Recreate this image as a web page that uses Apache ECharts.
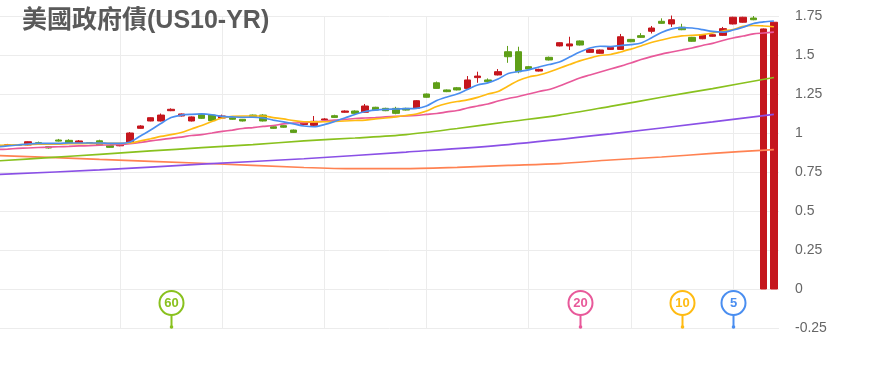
<!DOCTYPE html>
<html><head><meta charset="utf-8">
<script src="https://cdn.jsdelivr.net/npm/echarts@6/dist/echarts.min.js"></script>
<style>html,body{margin:0;padding:0;background:#fff}#c{width:879px;height:375px}</style>
</head><body><div id="c"></div>
<script>
const titleText = '美國政府債(US10-YR)';
// [open, close, low, high] per trading day (index = position on x axis)
const candles = [
[0.921,0.918,0.915,0.924],[0.92,0.925,0.918,0.93],[0.925,0.921,0.919,0.927],[0.923,0.944,0.921,0.946],
[0.938,0.933,0.93,0.945],[0.912,0.904,0.9,0.914],[0.955,0.948,0.945,0.962],[0.953,0.934,0.93,0.96],
[0.938,0.949,0.935,0.955],[0.937,0.934,0.932,0.94],[0.95,0.923,0.92,0.957],[0.919,0.908,0.905,0.922],
[0.918,0.923,0.915,0.926],[0.938,1.0,0.935,1.006],[1.03,1.045,1.028,1.05],[1.077,1.098,1.075,1.1],
[1.077,1.115,1.074,1.125],[1.143,1.152,1.14,1.158],[1.109,1.122,1.106,1.125],[1.077,1.103,1.074,1.106],
[1.12,1.094,1.09,1.125],[1.115,1.079,1.076,1.118],[1.096,1.109,1.093,1.118],[1.098,1.088,1.085,1.101],
[1.088,1.077,1.074,1.09],[1.115,1.105,1.102,1.118],[1.115,1.077,1.074,1.12],[1.04,1.03,1.027,1.043],
[1.047,1.037,1.034,1.05],[1.019,1.004,1.0,1.022],[1.054,1.064,1.05,1.068],[1.049,1.075,1.045,1.109],
[1.083,1.09,1.08,1.095],[1.111,1.1,1.097,1.117],[1.133,1.141,1.13,1.145],[1.141,1.126,1.123,1.145],
[1.133,1.173,1.13,1.186],[1.165,1.147,1.144,1.168],[1.158,1.143,1.14,1.162],[1.158,1.126,1.12,1.168],
[1.158,1.147,1.144,1.162],[1.158,1.207,1.155,1.21],[1.25,1.229,1.226,1.253],[1.322,1.286,1.283,1.33],
[1.276,1.265,1.262,1.279],[1.29,1.276,1.273,1.295],[1.286,1.34,1.283,1.365],[1.355,1.365,1.322,1.393],
[1.34,1.329,1.326,1.35],[1.372,1.393,1.369,1.41],[1.521,1.489,1.45,1.558],[1.521,1.393,1.383,1.553],
[1.425,1.41,1.407,1.43],[1.397,1.408,1.394,1.412],[1.485,1.468,1.465,1.49],[1.558,1.579,1.555,1.582],
[1.558,1.571,1.532,1.617],[1.59,1.564,1.561,1.593],[1.517,1.536,1.514,1.54],[1.511,1.532,1.508,1.535],
[1.536,1.549,1.533,1.552],[1.536,1.617,1.533,1.635],[1.6,1.585,1.582,1.603],[1.624,1.613,1.61,1.64],
[1.652,1.673,1.638,1.686],[1.716,1.703,1.7,1.735],[1.699,1.726,1.68,1.753],[1.678,1.662,1.659,1.7],
[1.613,1.588,1.585,1.616],[1.604,1.63,1.601,1.633],[1.62,1.63,1.617,1.633],[1.626,1.669,1.623,1.68],
[1.699,1.742,1.696,1.745],[1.71,1.742,1.707,1.745],[1.737,1.726,1.723,1.75],[0,1.667,0,1.67],
[0,1.71,0,1.713]
];
const ma5 = [0.912,0.917,0.923,0.929,0.933,0.933,0.933,0.936,0.936,0.936,0.936,0.933,0.933,0.942,0.981,1.019,
1.061,1.099,1.115,1.12,1.122,1.117,1.106,1.103,1.101,1.101,1.096,1.083,1.071,1.058,1.045,1.04,1.054,1.074,
1.096,1.119,1.138,1.147,1.152,1.154,1.156,1.158,1.173,1.208,1.231,1.25,1.279,1.308,1.321,1.346,1.381,1.394,
1.405,1.423,1.439,1.455,1.487,1.519,1.545,1.556,1.554,1.561,1.567,1.577,1.609,1.644,1.667,1.676,1.673,1.663,
1.651,1.647,1.66,1.679,1.702,1.712,1.718];
const ma10 = [0.92,0.923,0.924,0.926,0.928,0.928,0.929,0.931,0.932,0.933,0.933,0.933,0.933,0.936,0.949,0.963,
0.978,0.99,1.003,1.026,1.048,1.074,1.096,1.106,1.109,1.109,1.109,1.099,1.09,1.079,1.072,1.071,1.072,1.074,
1.077,1.08,1.083,1.09,1.096,1.103,1.112,1.122,1.141,1.17,1.189,1.202,1.212,1.228,1.25,1.266,1.301,1.337,
1.359,1.372,1.391,1.415,1.439,1.462,1.481,1.497,1.503,1.519,1.538,1.558,1.58,1.596,1.612,1.623,1.626,1.631,
1.641,1.654,1.663,1.683,1.689,1.686,1.681];
const ma20 = [0.894,0.897,0.901,0.904,0.907,0.909,0.912,0.914,0.917,0.919,0.922,0.924,0.926,0.931,0.939,0.949,
0.958,0.966,0.974,0.984,0.99,1.0,1.01,1.019,1.029,1.035,1.042,1.048,1.058,1.064,1.067,1.071,1.077,1.083,
1.087,1.093,1.096,1.099,1.103,1.106,1.109,1.113,1.119,1.125,1.135,1.144,1.16,1.173,1.186,1.205,1.221,1.234,
1.25,1.266,1.279,1.301,1.327,1.353,1.372,1.391,1.41,1.429,1.449,1.471,1.49,1.506,1.519,1.532,1.545,1.561,
1.575,1.593,1.609,1.622,1.635,1.641,1.647];
// [day index, value] read at intervals
const ma60 = [[0,0.821],[5,0.842],[10,0.863],[15,0.885],[20,0.906],[25,0.926],[30,0.949],[35,0.968],
[40,0.99],[45,1.029],[50,1.072],[55,1.115],[60,1.171],[65,1.229],[70,1.285],[76,1.356]];
const ma120 = [[0,0.734],[10,0.763],[20,0.8],[30,0.835],[40,0.878],[50,0.926],[60,0.994],[70,1.071],[76,1.119]];
const ma240 = [[0,0.856],[10,0.831],[20,0.806],[30,0.779],[35,0.771],[40,0.772],[45,0.78],[50,0.792],
[55,0.804],[60,0.827],[65,0.846],[70,0.869],[76,0.894]];
const pins = [[17,'60'],[57,'20'],[67,'10'],[72,'5']];
const xGridDays = [12,22,32,42,52,62,72];
const xView = {min:0.255, max:76.5};
const yTicks = {min:-0.25, max:1.75, step:0.25};

const C = {ma5:'#4a8ef0', ma10:'#ffbb12', ma20:'#e8599a', ma60:'#89c11e', ma120:'#8a50e6', ma240:'#ff8252',
  up:'#c5161d', down:'#5f9f18'};
const pinColor = {'60':C.ma60,'20':C.ma20,'10':C.ma10,'5':C.ma5};
const FONT = '"Liberation Sans", Arial, sans-serif';

const chart = echarts.init(document.getElementById('c'), null, {renderer:'canvas'});
function line(name, data, color){
  return {name, type:'line', data, symbol:'none', smooth:0.3, silent:true,
    lineStyle:{color, width:1.7}, itemStyle:{color}, z:3};
}
chart.setOption({
  animation:false,
  title:{text:titleText, left:17, top:4,
    textStyle:{fontSize:25, fontWeight:'bold', color:'#5a5a5a',
      fontFamily:'"Liberation Sans", Arial, "Noto Sans CJK TC", sans-serif'}},
  grid:{left:0, right:100, top:16, bottom:47},
  xAxis:{type:'value', min:xView.min, max:xView.max,
    axisLine:{show:false}, axisTick:{show:false}, axisLabel:{show:false}, splitLine:{show:false}},
  yAxis:{type:'value', position:'right', min:yTicks.min, max:yTicks.max, interval:yTicks.step,
    axisLine:{show:false}, axisTick:{show:false},
    axisLabel:{color:'#666', fontSize:14, margin:16, fontFamily:FONT},
    splitLine:{lineStyle:{color:'#ececec', width:1}}},
  series:[
    {type:'line', data:[], silent:true, z:0,
      markLine:{silent:true, z:0, symbol:['none','none'], label:{show:false}, animation:false,
        lineStyle:{color:'#ececec', width:1, type:'solid'},
        data:xGridDays.map(d=>({xAxis:d}))}},
    {type:'candlestick', data:candles.map((c,i)=>[i].concat(c)),
      encode:{x:0, y:[1,2,3,4]}, barWidth:7, clip:true, silent:true,
      itemStyle:{color:C.up, color0:C.down, borderColor:C.up, borderColor0:C.down, borderWidth:1}, z:2},
    line('MA240', ma240, C.ma240),
    line('MA120', ma120, C.ma120),
    line('MA60', ma60, C.ma60),
    line('MA20', ma20.map((v,i)=>[i,v]), C.ma20),
    line('MA10', ma10.map((v,i)=>[i,v]), C.ma10),
    line('MA5', ma5.map((v,i)=>[i,v]), C.ma5),
    {type:'custom', data:pins.map(p=>[p[0], yTicks.min]), silent:true, clip:false, z:5,
      renderItem:(params, api)=>{
        const lab = pins[params.dataIndex][1];
        const col = pinColor[lab];
        const p = api.coord([api.value(0), api.value(1)]);
        const x = Math.round(p[0]) + 0.5, yb = p[1] - 1;
        const r = 12, cy = yb - 24;
        return {type:'group', children:[
          {type:'line', shape:{x1:x, y1:cy + r, x2:x, y2:yb}, style:{stroke:col, lineWidth:2}},
          {type:'circle', shape:{cx:x, cy:yb, r:1.8}, style:{fill:col}},
          {type:'circle', shape:{cx:x, cy:cy, r:r}, style:{fill:'#fff', stroke:col, lineWidth:2}},
          {type:'text', x:x, y:cy, style:{text:lab, fill:col, fontSize:13, fontWeight:'bold',
            fontFamily:FONT, align:'center', verticalAlign:'middle'}}
        ]};
      }}
  ]
});
</script></body></html>
